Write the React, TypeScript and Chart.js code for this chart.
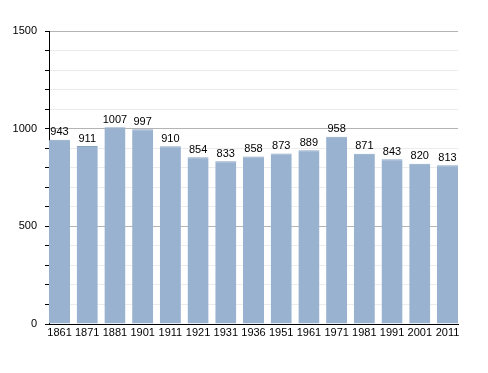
import React, { useEffect, useRef } from "react";
import { Chart, registerables } from "chart.js";

Chart.register(...registerables);

const categories = ["1861", "1871", "1881", "1901", "1911", "1921", "1931", "1936", "1951", "1961", "1971", "1981", "1991", "2001", "2011"];
const populations = [943, 911, 1007, 997, 910, 854, 833, 858, 873, 889, 958, 871, 843, 820, 813];
const yMajorTicks = [0, 500, 1000, 1500];

const FONT = "'Liberation Sans', Arial, sans-serif";

const valueLabels = {
  id: "valueLabels",
  afterDatasetsDraw(chart: any) {
    const ctx = chart.ctx;
    const meta = chart.getDatasetMeta(0);
    ctx.save();
    ctx.font = `11px ${FONT}`;
    ctx.fillStyle = "#000";
    ctx.textAlign = "center";
    ctx.textBaseline = "bottom";
    meta.data.forEach((bar: any, i: number) => {
      ctx.fillText(String(populations[i]), bar.x, bar.y - 2);
    });
    ctx.restore();
  },
};

export default function App() {
  const ref = useRef<HTMLCanvasElement>(null);
  useEffect(() => {
    const chart = new Chart(ref.current!, {
      type: "bar",
      data: {
        datasets: [
          {
            data: populations.map((y, i) => ({ x: i, y })),
            backgroundColor: "#98b2cf",
            borderColor: "#8aa5c4",
            borderWidth: { top: 1, left: 0, right: 0, bottom: 0 } as any,
            barPercentage: 0.76,
            categoryPercentage: 1,
          },
        ],
      },
      options: {
        animation: false,
        responsive: false,
        maintainAspectRatio: false,
        layout: { padding: { top: 31, right: 30, left: 0, bottom: 0 } },
        plugins: { legend: { display: false }, tooltip: { enabled: false } },
        scales: {
          x: {
            type: "linear",
            min: -0.38,
            max: categories.length - 1 + 0.38,
            offset: false,
            grid: { display: false, drawTicks: false },
            border: { color: "#000", width: 1 },
            ticks: {
              color: "#000",
              font: { family: FONT, size: 11 },
              padding: 2,
              maxRotation: 0,
              autoSkip: false,
              callback: (v: any) => categories[Number(v)] ?? "",
            },
            afterBuildTicks(scale: any) {
              scale.ticks = categories.map((_, i) => ({ value: i }));
            },
            afterFit(scale: any) {
              scale.height = 49;
            },
          },
          y: {
            min: 0,
            max: 1500,
            ticks: {
              stepSize: 100,
              color: "#000",
              font: { family: FONT, size: 11 },
              padding: 8,
              callback: (v: any) => (yMajorTicks.includes(Number(v)) ? String(v) : ""),
            },
            grid: {
              color: (c: any) => (c.tick && c.tick.value % 500 === 0 ? "#b4b4b4" : "#ececec"),
              tickColor: "#000",
              tickLength: 4,
              lineWidth: 1,
            },
            border: { color: "#000", width: 1 },
            afterFit(scale: any) {
              scale.width = 49;
            },
          },
        },
      },
      plugins: [valueLabels],
    });
    return () => chart.destroy();
  }, []);
  return (
    <div style={{ position: "fixed", left: 0, top: 0, width: 488, height: 373, background: "#fff" }}>
      <canvas ref={ref} width={488} height={373} style={{ width: 488, height: 373 }} />
    </div>
  );
}
